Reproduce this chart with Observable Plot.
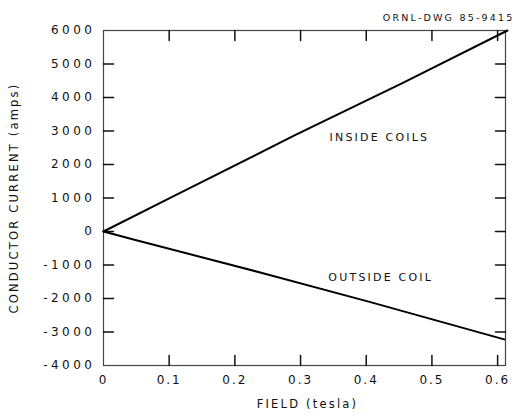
<!DOCTYPE html>
<html>
<head>
<meta charset="utf-8">
<script src="https://cdn.jsdelivr.net/npm/d3@7"></script>
<script src="https://cdn.jsdelivr.net/npm/@observablehq/plot@0.6"></script>
<style>
  html, body { margin: 0; padding: 0; background: #fff; }
  #chart svg text { letter-spacing: 2.2px; }
  #chart svg g[aria-label="y-axis tick label"] text { letter-spacing: 3.5px; }
  #chart svg g[aria-label="x-axis tick label"] text { letter-spacing: 2px; }
</style>
</head>
<body>
<div id="chart"></div>
<script>
// Data
const insideField = [0, 0.10, 0.29, 0.455, 0.615];
const insideCurrent = [0, 990, 2860, 4430, 6000];
const outsideField = [0, 0.05, 0.24, 0.405, 0.61];
const outsideCurrent = [0, -260, -1230, -2100, -3220];

const xTicks = [0, 0.1, 0.2, 0.3, 0.4, 0.5, 0.6];
const yTicks = [-4000, -3000, -2000, -1000, 0, 1000, 2000, 3000, 4000, 5000, 6000];

const labels = [
  {text: "INSIDE COILS", field: 0.42, current: 2800},
  {text: "OUTSIDE COIL", field: 0.422, current: -1370}
];
const drawingNumber = "ORNL-DWG 85-9415";
const xLabel = "FIELD (tesla)";
const yLabel = "CONDUCTOR CURRENT (amps)";

const inside = insideField.map((f, i) => ({field: f, current: insideCurrent[i]}));
const outside = outsideField.map((f, i) => ({field: f, current: outsideCurrent[i]}));

const W = 524, H = 418;
const mL = 103, mR = 19, mT = 30, mB = 53;
const tickLen = 10;

const xDomain = [0, 0.612];
const yDomain = [-4000, 6000];

// inward tick shape for vector marks
const tickShape = {draw(context, l) { context.moveTo(0, 0); context.lineTo(0, -l); }};
const tickStyle = {stroke: "#111", strokeWidth: 1.5, length: tickLen, shape: tickShape, anchor: "start"};

const chart = Plot.plot({
  width: W,
  height: H,
  marginLeft: mL,
  marginRight: mR,
  marginTop: mT,
  marginBottom: mB,
  style: {fontFamily: "DejaVu Sans, sans-serif", background: "#fff", color: "#111"},
  x: {domain: xDomain},
  y: {domain: yDomain},
  marks: [
    Plot.frame({stroke: "#444", strokeWidth: 1.2}),
    // inward tick marks on all four sides
    Plot.vector(xTicks.slice(1), {x: d => d, frameAnchor: "bottom", rotate: 0, ...tickStyle}),
    Plot.vector(xTicks.slice(1), {x: d => d, frameAnchor: "top", rotate: 180, ...tickStyle}),
    Plot.vector(yTicks.slice(1, -1), {y: d => d, frameAnchor: "left", rotate: 90, ...tickStyle}),
    Plot.vector(yTicks.slice(1, -1), {y: d => d, frameAnchor: "right", rotate: -90, ...tickStyle}),
    Plot.axisX(xTicks, {
      tickSize: 0, tickPadding: 10, fontSize: 12, label: null,
      tickFormat: d => String(d), fill: "#111"
    }),
    Plot.axisY(yTicks, {
      tickSize: 0, tickPadding: 8, fontSize: 12, label: null,
      tickFormat: d => d < 0 ? "-" + Math.abs(d) : String(d), fill: "#111"
    }),
    Plot.text([xLabel], {frameAnchor: "bottom", dx: 3, dy: 42, fontSize: 11.5, fill: "#111"}),
    Plot.text([yLabel], {frameAnchor: "left", dx: -89, rotate: -90, textAnchor: "middle", fontSize: 11.5, fill: "#111"}),
    Plot.text([drawingNumber], {frameAnchor: "top-right", dx: 9, dy: -16, textAnchor: "end", fontSize: 9.5, fill: "#111"}),
    Plot.line(inside, {x: "field", y: "current", stroke: "#000", strokeWidth: 2}),
    Plot.line(outside, {x: "field", y: "current", stroke: "#000", strokeWidth: 2}),
    Plot.text(labels, {x: "field", y: "current", text: "text", fontSize: 11, fill: "#111"})
  ]
});
document.getElementById("chart").appendChild(chart);
</script>
</body>
</html>
